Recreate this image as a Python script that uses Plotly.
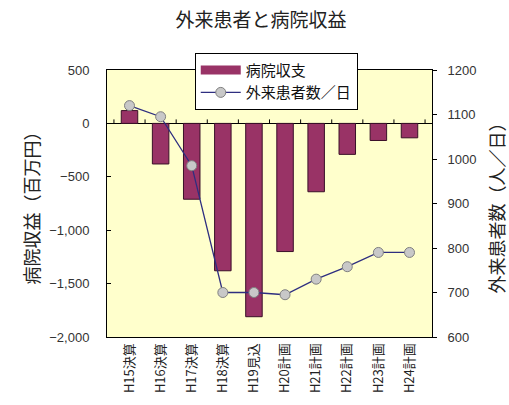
import plotly.graph_objects as go

categories = ["H15決算", "H16決算", "H17決算", "H18決算", "H19見込",
              "H20計画", "H21計画", "H22計画", "H23計画", "H24計画"]
hospital_balance = [120, -380, -710, -1380, -1810, -1200, -640, -290, -160, -135]
outpatients_per_day = [1120, 1095, 985, 700, 700, 695, 730, 758, 790, 790]

left_ticks = [500, 0, -500, -1000, -1500, -2000]
right_ticks = [1200, 1100, 1000, 900, 800, 700, 600]

FONT = "Liberation Sans, Arial, Noto Sans CJK JP"
CJK = "Noto Sans CJK JP, Liberation Sans"
BAR_COLOR = "#993366"

fig = go.Figure()

fig.add_trace(go.Bar(
    x=categories, y=hospital_balance, name="病院収支",
    marker=dict(color=BAR_COLOR, line=dict(color="#3a1028", width=1)),
    yaxis="y", showlegend=False,
))

# legend entry with a wide rectangular swatch for the bars
fig.add_trace(go.Scatter(
    x=[None], y=[None], name="病院収支", mode="lines",
    line=dict(color=BAR_COLOR, width=9), yaxis="y",
))

fig.add_trace(go.Scatter(
    x=categories, y=outpatients_per_day, name="外来患者数／日",
    mode="lines+markers", yaxis="y2",
    line=dict(color="#2e2e80", width=1.3),
    marker=dict(symbol="circle", size=10, color="#c8c8c8",
                line=dict(color="#808080", width=1)),
))

# small tick marks on the category axis, which crosses at zero
shapes = []
for i in range(len(categories) + 1):
    shapes.append(dict(
        type="line", xref="x", yref="y", x0=i - 0.5, x1=i - 0.5,
        ysizemode="pixel", yanchor=0, y0=0, y1=4,
        line=dict(color="black", width=1),
    ))

fig.update_layout(
    width=509, height=405,
    margin=dict(l=107, r=77, t=70, b=68),
    paper_bgcolor="white",
    plot_bgcolor="#ffffcc",
    bargap=0.47,
    showlegend=True,
    title=dict(text="外来患者と病院収益", xref="container", x=0.513,
               xanchor="center", y=0.95, yanchor="middle",
               font=dict(family=CJK, size=19, color="#222")),
    legend=dict(x=0.27, y=1.065, xanchor="left", yanchor="top",
                bgcolor="white", bordercolor="black", borderwidth=1,
                font=dict(family=CJK, size=15, color="#111"),
                tracegroupgap=0, itemwidth=40),
    xaxis=dict(
        type="category", tickangle=-90, automargin=False,
        tickfont=dict(family=CJK, size=13, color="#222"),
        showline=True, linecolor="black", linewidth=1, mirror=True,
        ticks="", showgrid=False,
    ),
    yaxis=dict(
        range=[-2000, 500], tickvals=left_ticks, tickformat=",",
        automargin=False,
        tickfont=dict(family=FONT, size=13, color="#333"),
        ticklabelstandoff=14,
        title=dict(text="病院収益（百万円）", standoff=4,
                   font=dict(family=CJK, size=18, color="#222")),
        showline=True, linecolor="black", linewidth=1,
        ticks="inside", ticklen=4, tickcolor="black",
        showgrid=False, zeroline=True, zerolinecolor="black", zerolinewidth=1,
    ),
    yaxis2=dict(
        range=[600, 1200], tickvals=right_ticks, overlaying="y", side="right",
        automargin=False,
        tickfont=dict(family=FONT, size=13, color="#333"),
        ticklabelstandoff=8,
        title=dict(text="外来患者数（人／日）", standoff=16,
                   font=dict(family=CJK, size=18, color="#222")),
        showline=True, linecolor="black", linewidth=1,
        ticks="outside", ticklen=4, tickcolor="black",
        showgrid=False, zeroline=False,
    ),
    shapes=shapes,
)

fig.write_html("out.html")
